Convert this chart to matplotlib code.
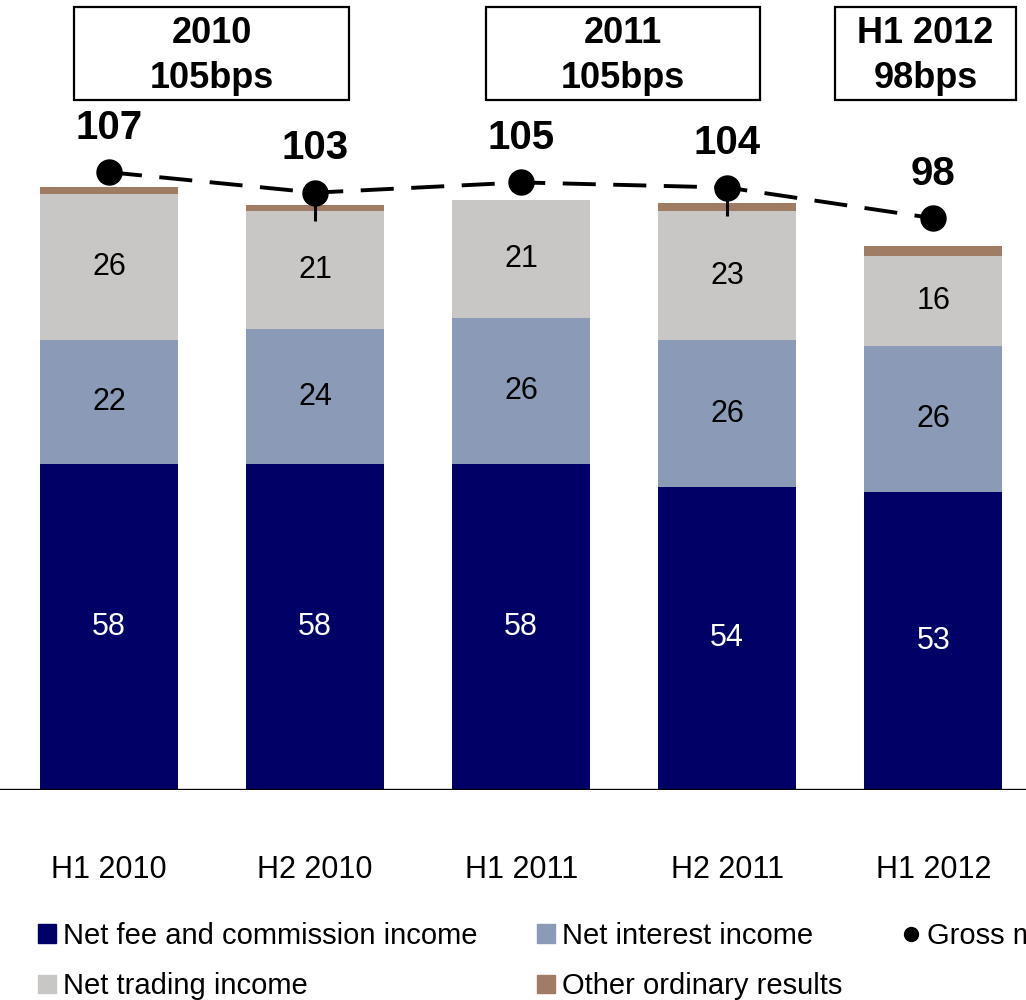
import numpy as np
import matplotlib.pyplot as plt
from matplotlib.patches import Patch, Rectangle
from matplotlib.lines import Line2D

plt.rcParams['font.family'] = ['Liberation Sans', 'DejaVu Sans']

# data
periods = ["H1 2010", "H2 2010", "H1 2011", "H2 2011", "H1 2012"]
fee = [58, 58, 58, 54, 53]          # Net fee and commission income
nii = [22, 24, 26, 26, 26]          # Net interest income
trading = [26, 21, 21, 23, 16]      # Net trading income
other = [1.4, 1.1, -0.3, 1.4, 1.8]  # Other ordinary results
gross = [107, 103, 105, 104, 98]    # Gross margin (bps)
period_boxes = ["2010\n105bps", "2011\n105bps", "H1 2012\n98bps"]

c_fee = "#000066"
c_nii = "#8A9AB7"
c_trd = "#C8C7C5"
c_oth = "#A07C64"

fig = plt.figure(figsize=(10.26, 10), dpi=100)
ax = fig.add_axes([0, 0.21, 1, 0.79])
x = np.arange(len(periods))
w = 0.67

fee = np.array(fee, float)
nii = np.array(nii, float)
trading = np.array(trading, float)
other = np.array(other, float)

ax.bar(x, fee, w, color=c_fee, zorder=2)
ax.bar(x, nii, w, bottom=fee, color=c_nii, zorder=2)
ax.bar(x, trading, w, bottom=fee + nii, color=c_trd, zorder=2)
oth_bottom = np.where(other >= 0, fee + nii + trading, 0)
ax.bar(x, other, w, bottom=oth_bottom, color=c_oth, zorder=2)

for i in range(len(x)):
    ax.text(x[i], fee[i] / 2, f"{fee[i]:.0f}", color="white", fontsize=22,
            ha="center", va="center", zorder=3)
    ax.text(x[i], fee[i] + nii[i] / 2, f"{nii[i]:.0f}", color="black", fontsize=22,
            ha="center", va="center", zorder=3)
    ax.text(x[i], fee[i] + nii[i] + trading[i] / 2, f"{trading[i]:.0f}", color="black",
            fontsize=22, ha="center", va="center", zorder=3)

ax.axhline(0, color="black", lw=2.4, zorder=4)
ax.set_xlim(-0.529, 4.45)
ax.set_ylim(0, 140.6)
ax.set_yticks([])
ax.set_xticks(x)
ax.set_xticklabels(periods, fontsize=22)
ax.tick_params(axis="x", length=0, pad=47)
for s in ax.spines.values():
    s.set_visible(False)

# gross margin line on its own scale
ax2 = ax.twinx()
ax2.set_ylim(-13.9, 140.7)
ax2.set_yticks([])
for s in ax2.spines.values():
    s.set_visible(False)
ax2.plot(x, gross, color="black", lw=2.8, ls=(0, (8.5, 4.5)), marker="o",
         markersize=18, zorder=5)
lower = [0, 5.5, 0, 5.5, 0]
ax2.errorbar(x, gross, yerr=[lower, [0] * 5], fmt="none", ecolor="black",
             elinewidth=2.2, capsize=0, zorder=5)
for i in range(len(x)):
    ax2.annotate(f"{gross[i]}", (x[i], gross[i]), xytext=(0, 32),
                 textcoords="offset points", ha="center", va="center",
                 fontsize=29, fontweight="bold")

# period boxes at the top
boxes = [(74, 349), (486, 760), (835, 1016)]
for (l, r), txt in zip(boxes, period_boxes):
    fig.patches.append(Rectangle((l / 1026, 1 - 100 / 1000), (r - l) / 1026, 93 / 1000,
                                 transform=fig.transFigure, fill=False,
                                 edgecolor="black", lw=1.6))
    fig.text((l + r) / 2 / 1026, 1 - 56 / 1000, txt, ha="center", va="center",
             fontsize=26, fontweight="bold", linespacing=1.38)

handles = [
    Patch(color=c_fee, label="Net fee and commission income"),
    Patch(color=c_trd, label="Net trading income"),
    Patch(color=c_nii, label="Net interest income"),
    Patch(color=c_oth, label="Other ordinary results"),
    Line2D([], [], color="black", marker="o", ls="none", markersize=10,
           label="Gross margin (bps)"),
]
fig.legend(handles=handles, ncol=3, loc="upper left", bbox_to_anchor=(0.023, 0.093),
           frameon=False, fontsize=21, handlelength=0.6, handleheight=0.6,
           handletextpad=0.25, columnspacing=2.05, labelspacing=0.78, borderpad=0)

plt.savefig("out.png", dpi=100)
